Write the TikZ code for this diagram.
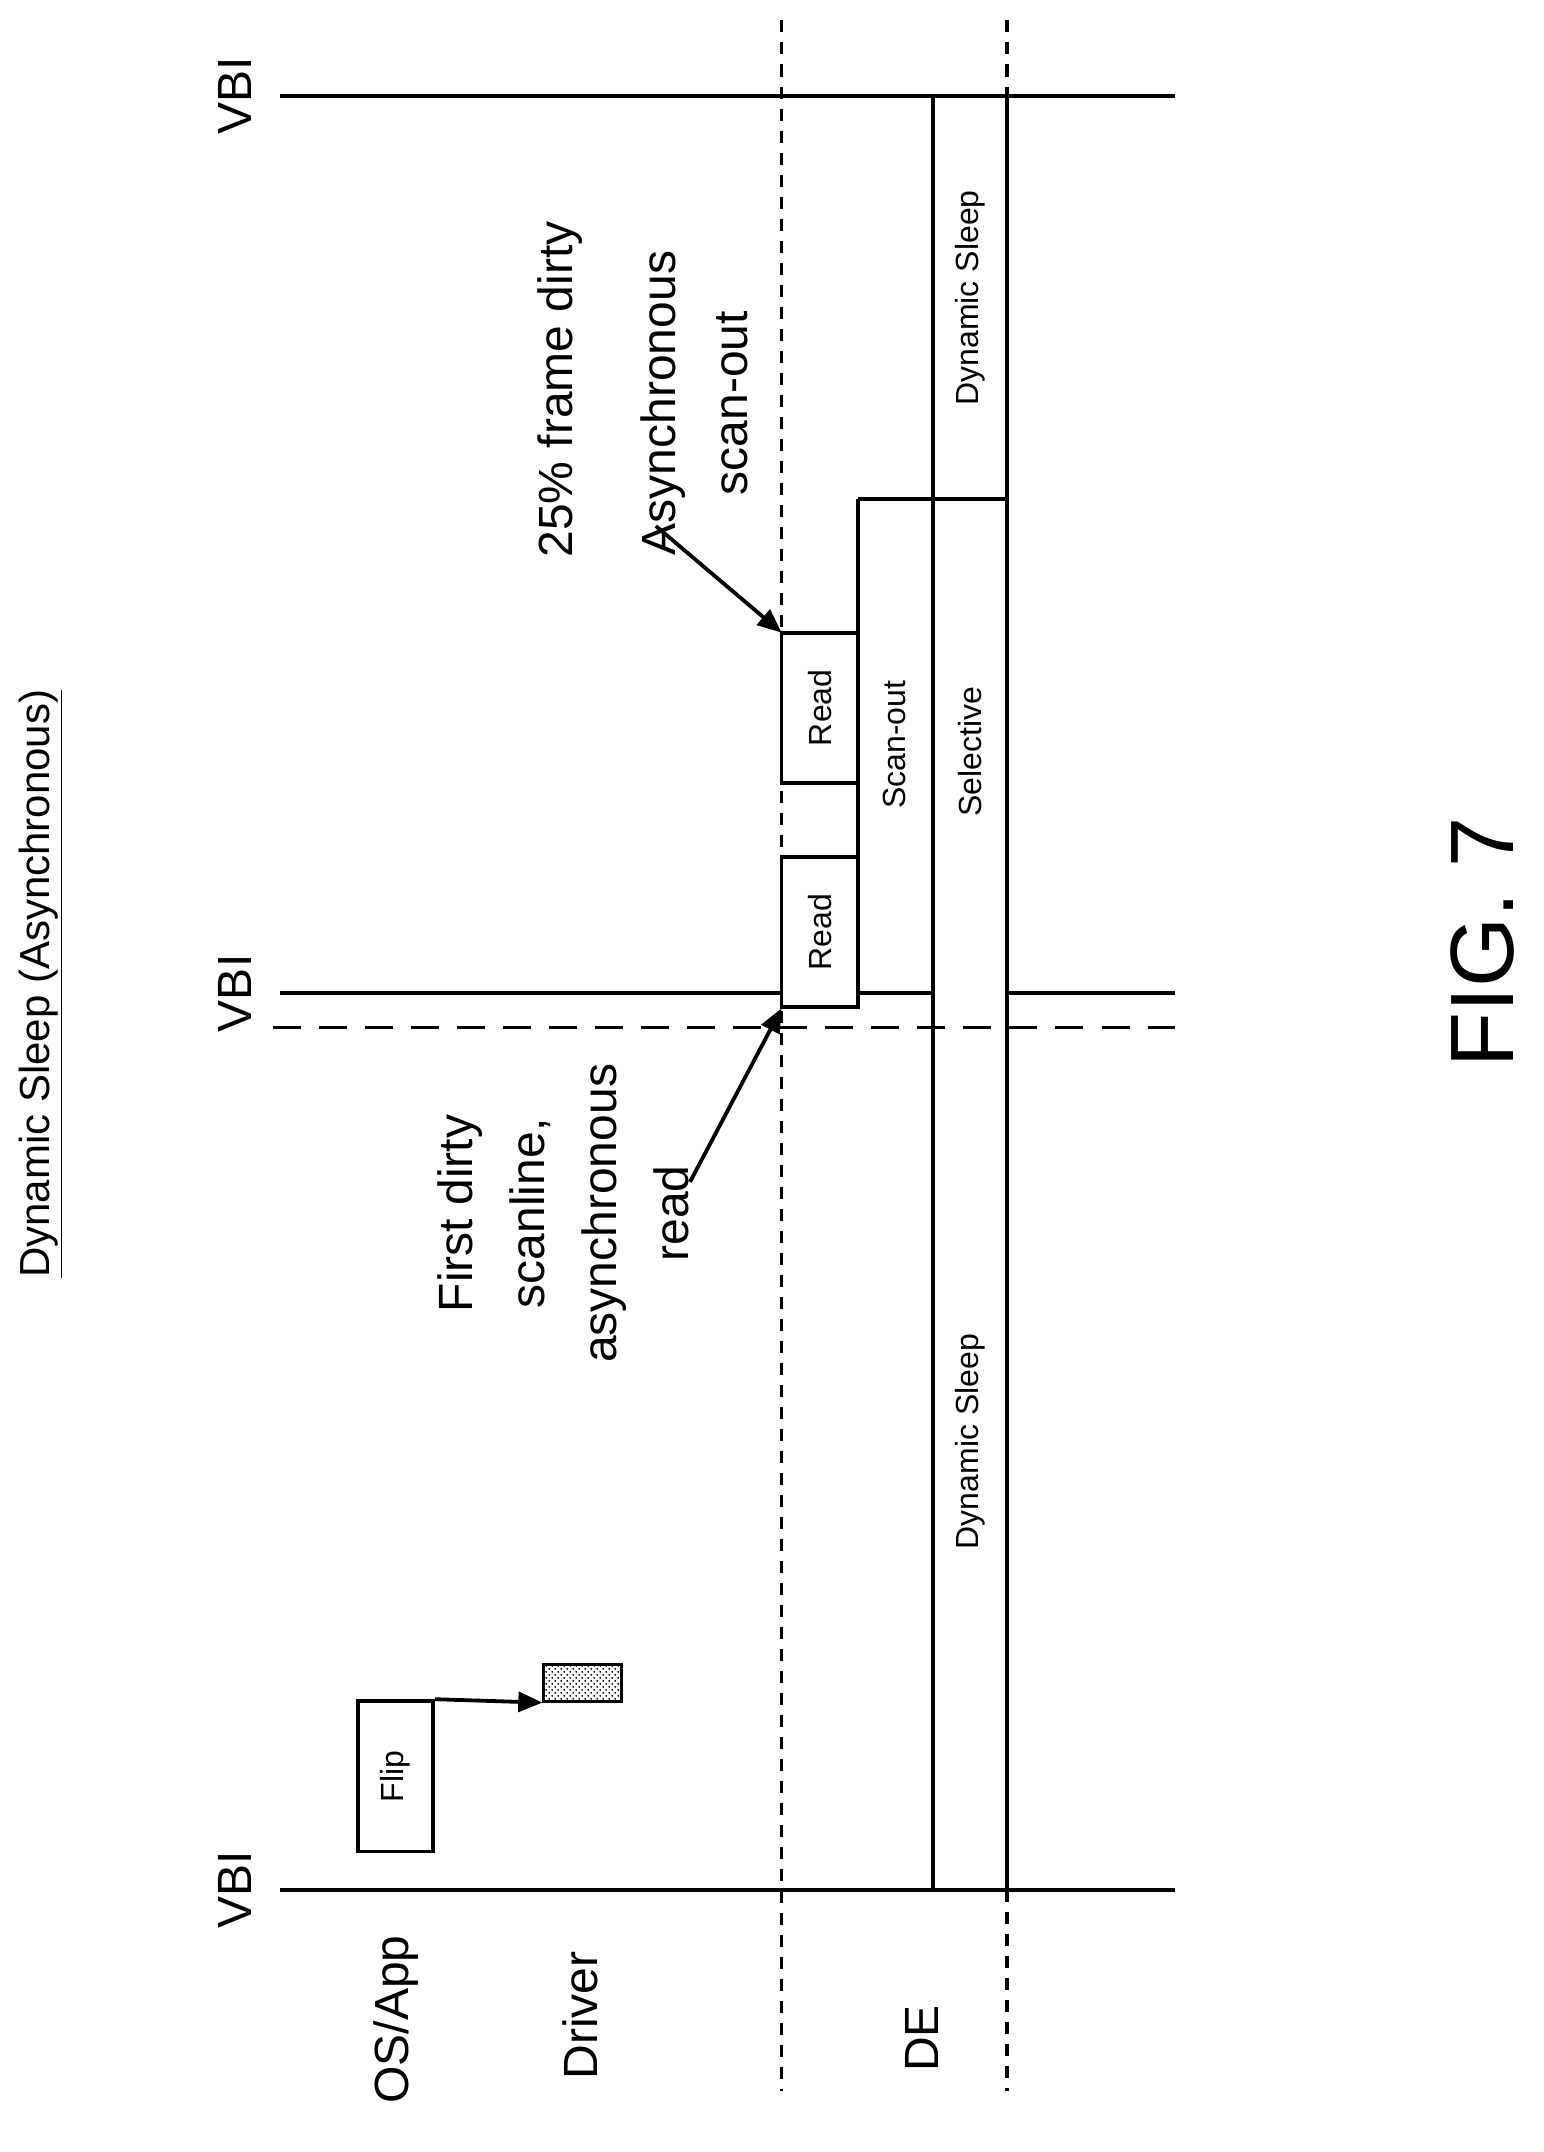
\documentclass[tikz,border=0pt]{standalone}
\usepackage{fontspec}
\setmainfont{Liberation Sans}
\usetikzlibrary{arrows.meta,patterns}
\begin{document}
\begin{tikzpicture}[x=0.683pt,y=-0.683pt,
  ln/.style={line width=1.9pt},
  dot/.style={line width=1.9pt,dash pattern=on 6pt off 5pt},
  lbl/.style={rotate=90,font=\fontsize{24}{28}\selectfont,align=center},
  sm/.style={rotate=90,font=\fontsize{16}{19}\selectfont},
  ar/.style={line width=1.9pt,-{Triangle[length=12pt,width=10pt]}}]
\useasboundingbox (0,0) rectangle (1130,1575);
% VBI lines
\draw[ln] (205,70) -- (860,70);
\draw[ln] (205,1383) -- (860,1383);
\draw[ln] (205,727) -- (572,727);
\draw[ln] (628,727) -- (683,727);
\draw[ln] (737,727) -- (860,727);
\draw[line width=1.9pt,dash pattern=on 14pt off 9pt] (200,752) -- (860,752);
% dotted verticals
\draw[dot] (572,15) -- (572,1530);
\draw[dot] (737,15) -- (737,70);
\draw[dot] (737,1383) -- (737,1530);
% DE lanes
\draw[ln] (683,70) -- (683,1383);
\draw[ln] (737,70) -- (737,1383);
\draw[ln] (628,365) -- (737,365);
\draw[ln] (628,365) -- (628,737);
% Read boxes
\node[draw,line width=1.9pt,minimum width=56*0.683pt,minimum height=110*0.683pt,inner sep=0] (r1) at (600,682) {};
\node[sm] at (r1) {Read};
\node[draw,line width=1.9pt,minimum width=56*0.683pt,minimum height=110*0.683pt,inner sep=0] (r2) at (600,518) {};
\node[sm] at (r2) {Read};
\node[sm] (so) at (655,545) {Scan-out};
\node[sm] (sel) at (710,550) {Selective};
\node[sm] (ds1) at (710,218) {Dynamic Sleep};
\node[sm] (ds2) at (710,1055) {Dynamic Sleep};
% Flip
\node[draw,line width=1.9pt,minimum width=55*0.683pt,minimum height=110*0.683pt,inner sep=0] (flip) at (289.5,1300) {};
\node[sm] at (flip) {Flip};
\node[draw,line width=1.5pt,pattern=crosshatch dots,minimum width=57*0.683pt,minimum height=27*0.683pt,inner sep=0] (drv) at (426.5,1231.5) {};
\draw[ar] (flip.north east) -- (drv.south west);
% labels
\node[lbl] (v1) at (172,70) {VBI};
\node[lbl] (v2) at (172,727) {VBI};
\node[lbl] (v3) at (172,1383) {VBI};
\node[lbl] (os) at (290,1478) {OS/App};
\node[lbl] (dr) at (425,1475) {Driver};
\node[lbl] (de) at (675,1492) {DE};
\node[rotate=90,font=\fontsize{21}{25}\selectfont] (title) at (30,720) {\underline{Dynamic Sleep (Asynchronous)}};
\node[rotate=90,font=\fontsize{45}{50}\selectfont] (fig) at (1085,690) {FIG. 7};
\node[lbl] (pct) at (410,285) {25\% frame dirty};
\node[lbl,font=\fontsize{24}{36}\selectfont] (asy) at (508,295) {Asynchronous\\scan-out};
\node[lbl,font=\fontsize{24}{36}\selectfont] (fd) at (412,888) {First dirty\\scanline,\\asynchronous\\read};
\coordinate (a1) at (480,385);
\coordinate (a2) at (505,865);
\draw[ar] (a1) -- (572,463);
\draw[ar] (a2) -- (572,738);
\end{tikzpicture}
\end{document}
